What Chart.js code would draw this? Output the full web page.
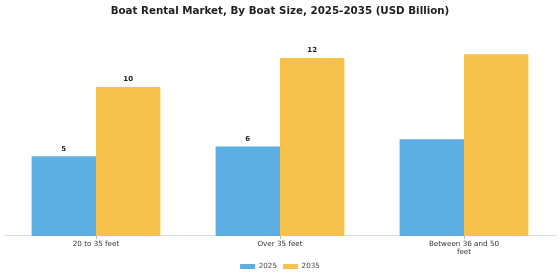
<!DOCTYPE html>
<html>
<head>
<meta charset="utf-8">
<script src="https://cdn.jsdelivr.net/npm/chart.js@4"></script>
<style>
html,body{margin:0;padding:0;background:#fff;}
#wrap{width:560px;height:280px;position:relative;}
</style>
</head>
<body>
<div id="wrap"><canvas id="c"></canvas></div>
<script>
const categories = ["20 to 35 feet", "Over 35 feet", ["Between 36 and 50", "feet"]];
const values2025 = [5.35, 6.0, 6.5];
const values2035 = [10.0, 11.95, 12.2];
const labels2025 = ["5", "6", ""];
const labels2035 = ["10", "12", ""];
const seriesNames = ["2025", "2035"];

const valueLabels = {
  id: 'valueLabels',
  afterDatasetsDraw(chart) {
    const ctx = chart.ctx;
    const all = [labels2025, labels2035];
    ctx.save();
    ctx.font = 'bold 7px "DejaVu Sans"';
    ctx.fillStyle = '#222';
    ctx.textAlign = 'center';
    ctx.textBaseline = 'bottom';
    chart.data.datasets.forEach((ds, i) => {
      const meta = chart.getDatasetMeta(i);
      meta.data.forEach((bar, j) => {
        const t = all[i][j];
        if (t) ctx.fillText(t, bar.x, bar.y - 4);
      });
    });
    ctx.restore();
  }
};

new Chart(document.getElementById('c'), {
  type: 'bar',
  data: {
    labels: categories,
    datasets: [
      { label: seriesNames[0], data: values2025, backgroundColor: '#5DAEE3', categoryPercentage: 0.7, barPercentage: 1.0 },
      { label: seriesNames[1], data: values2035, backgroundColor: '#F6C24C', categoryPercentage: 0.7, barPercentage: 1.0 }
    ]
  },
  options: {
    responsive: true,
    maintainAspectRatio: false,
    animation: false,
    layout: { padding: { left: 4, right: 4, top: 0, bottom: 0 } },
    plugins: {
      title: {
        display: true,
        text: 'Boat Rental Market, By Boat Size, 2025-2035 (USD Billion)',
        font: { family: 'DejaVu Sans', size: 10.3, weight: 'bold' },
        color: '#222',
        padding: { top: 5, bottom: 16 }
      },
      legend: {
        position: 'bottom',
        labels: {
          boxWidth: 15, boxHeight: 5,
          font: { family: 'DejaVu Sans', size: 7.2 },
          color: '#444',
          padding: 6
        }
      },
      tooltip: { enabled: false }
    },
    scales: {
      x: {
        grid: { display: true, drawOnChartArea: false, offset: false, tickLength: 3, color: '#bbb' },
        border: { color: '#ddd' },
        ticks: { font: { family: 'DejaVu Sans', size: 7.2, lineHeight: 1.1 }, color: '#333', maxRotation: 0, padding: 1 }
      },
      y: {
        display: false,
        min: 0,
        max: 13.6
      }
    }
  },
  plugins: [valueLabels]
});
</script>
</body>
</html>
